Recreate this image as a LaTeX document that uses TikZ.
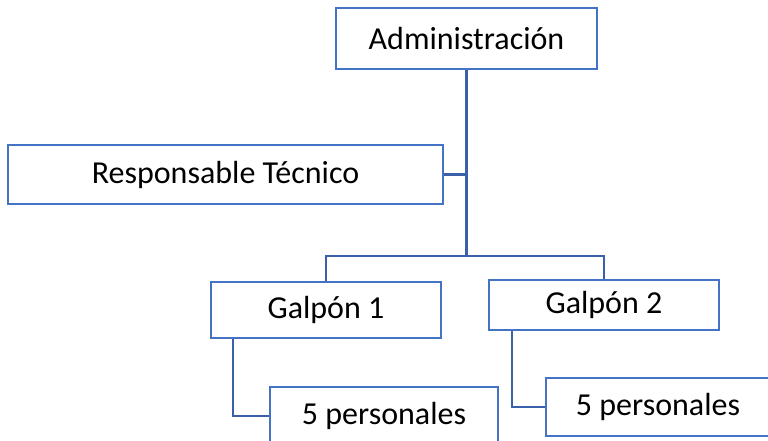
\documentclass[tikz,border=0pt]{standalone}
\usepackage{fontspec}
\setmainfont{Carlito}
\usetikzlibrary{calc}
\definecolor{boxblue}{RGB}{68,114,196}
\definecolor{linkblue}{RGB}{58,96,170}
\tikzset{
  orgbox/.style={draw=boxblue, line width=2.2pt, fill=white, inner sep=0pt,
    font=\fontsize{32}{37}\selectfont},
  link/.style={draw=linkblue, line width=2.6pt}
}

\begin{document}
\begin{tikzpicture}[x=1pt, y=-1pt]
			%%%%% START %%%%%
			\useasboundingbox (0, 0) rectangle (768, 441);
			
			\node[orgbox, minimum width=261pt, minimum height=61pt] (admin) at (466.5, 38.5) {Administración};
			\node[orgbox, minimum width=435pt, minimum height=59pt] (resp) at (225.5, 174.5) {Responsable Técnico};
			\node[orgbox, minimum width=230pt, minimum height=56pt] (galpon1) at (326, 310) {Galpón 1};
			\node[orgbox, minimum width=230pt, minimum height=50pt] (galpon2) at (604, 305) {Galpón 2};
			\node[orgbox, minimum width=228pt, minimum height=58pt] (pers1) at (384, 416) {5 personales};
			\node[orgbox, minimum width=224pt, minimum height=58pt] (pers2) at (658, 407) {5 personales};
			
			\coordinate (bus) at (466, 256);
			\coordinate (drop1) at ($(galpon1.south west)+(23, 0)$);
			\coordinate (drop2) at ($(galpon2.south west)+(24, 0)$);
			
			\draw[link] (admin.south) -- (admin.south |- bus);
			\draw[link] (resp.east) -- (resp.east -| admin.south);
			\draw[link] (galpon1.north) |- (bus) -| (galpon2.north);
			\draw[link] (drop1) |- (pers1.west);
			\draw[link] (drop2) |- (pers2.west);
			
			%%%%% END %%%%%
\end{tikzpicture}
\end{document}
